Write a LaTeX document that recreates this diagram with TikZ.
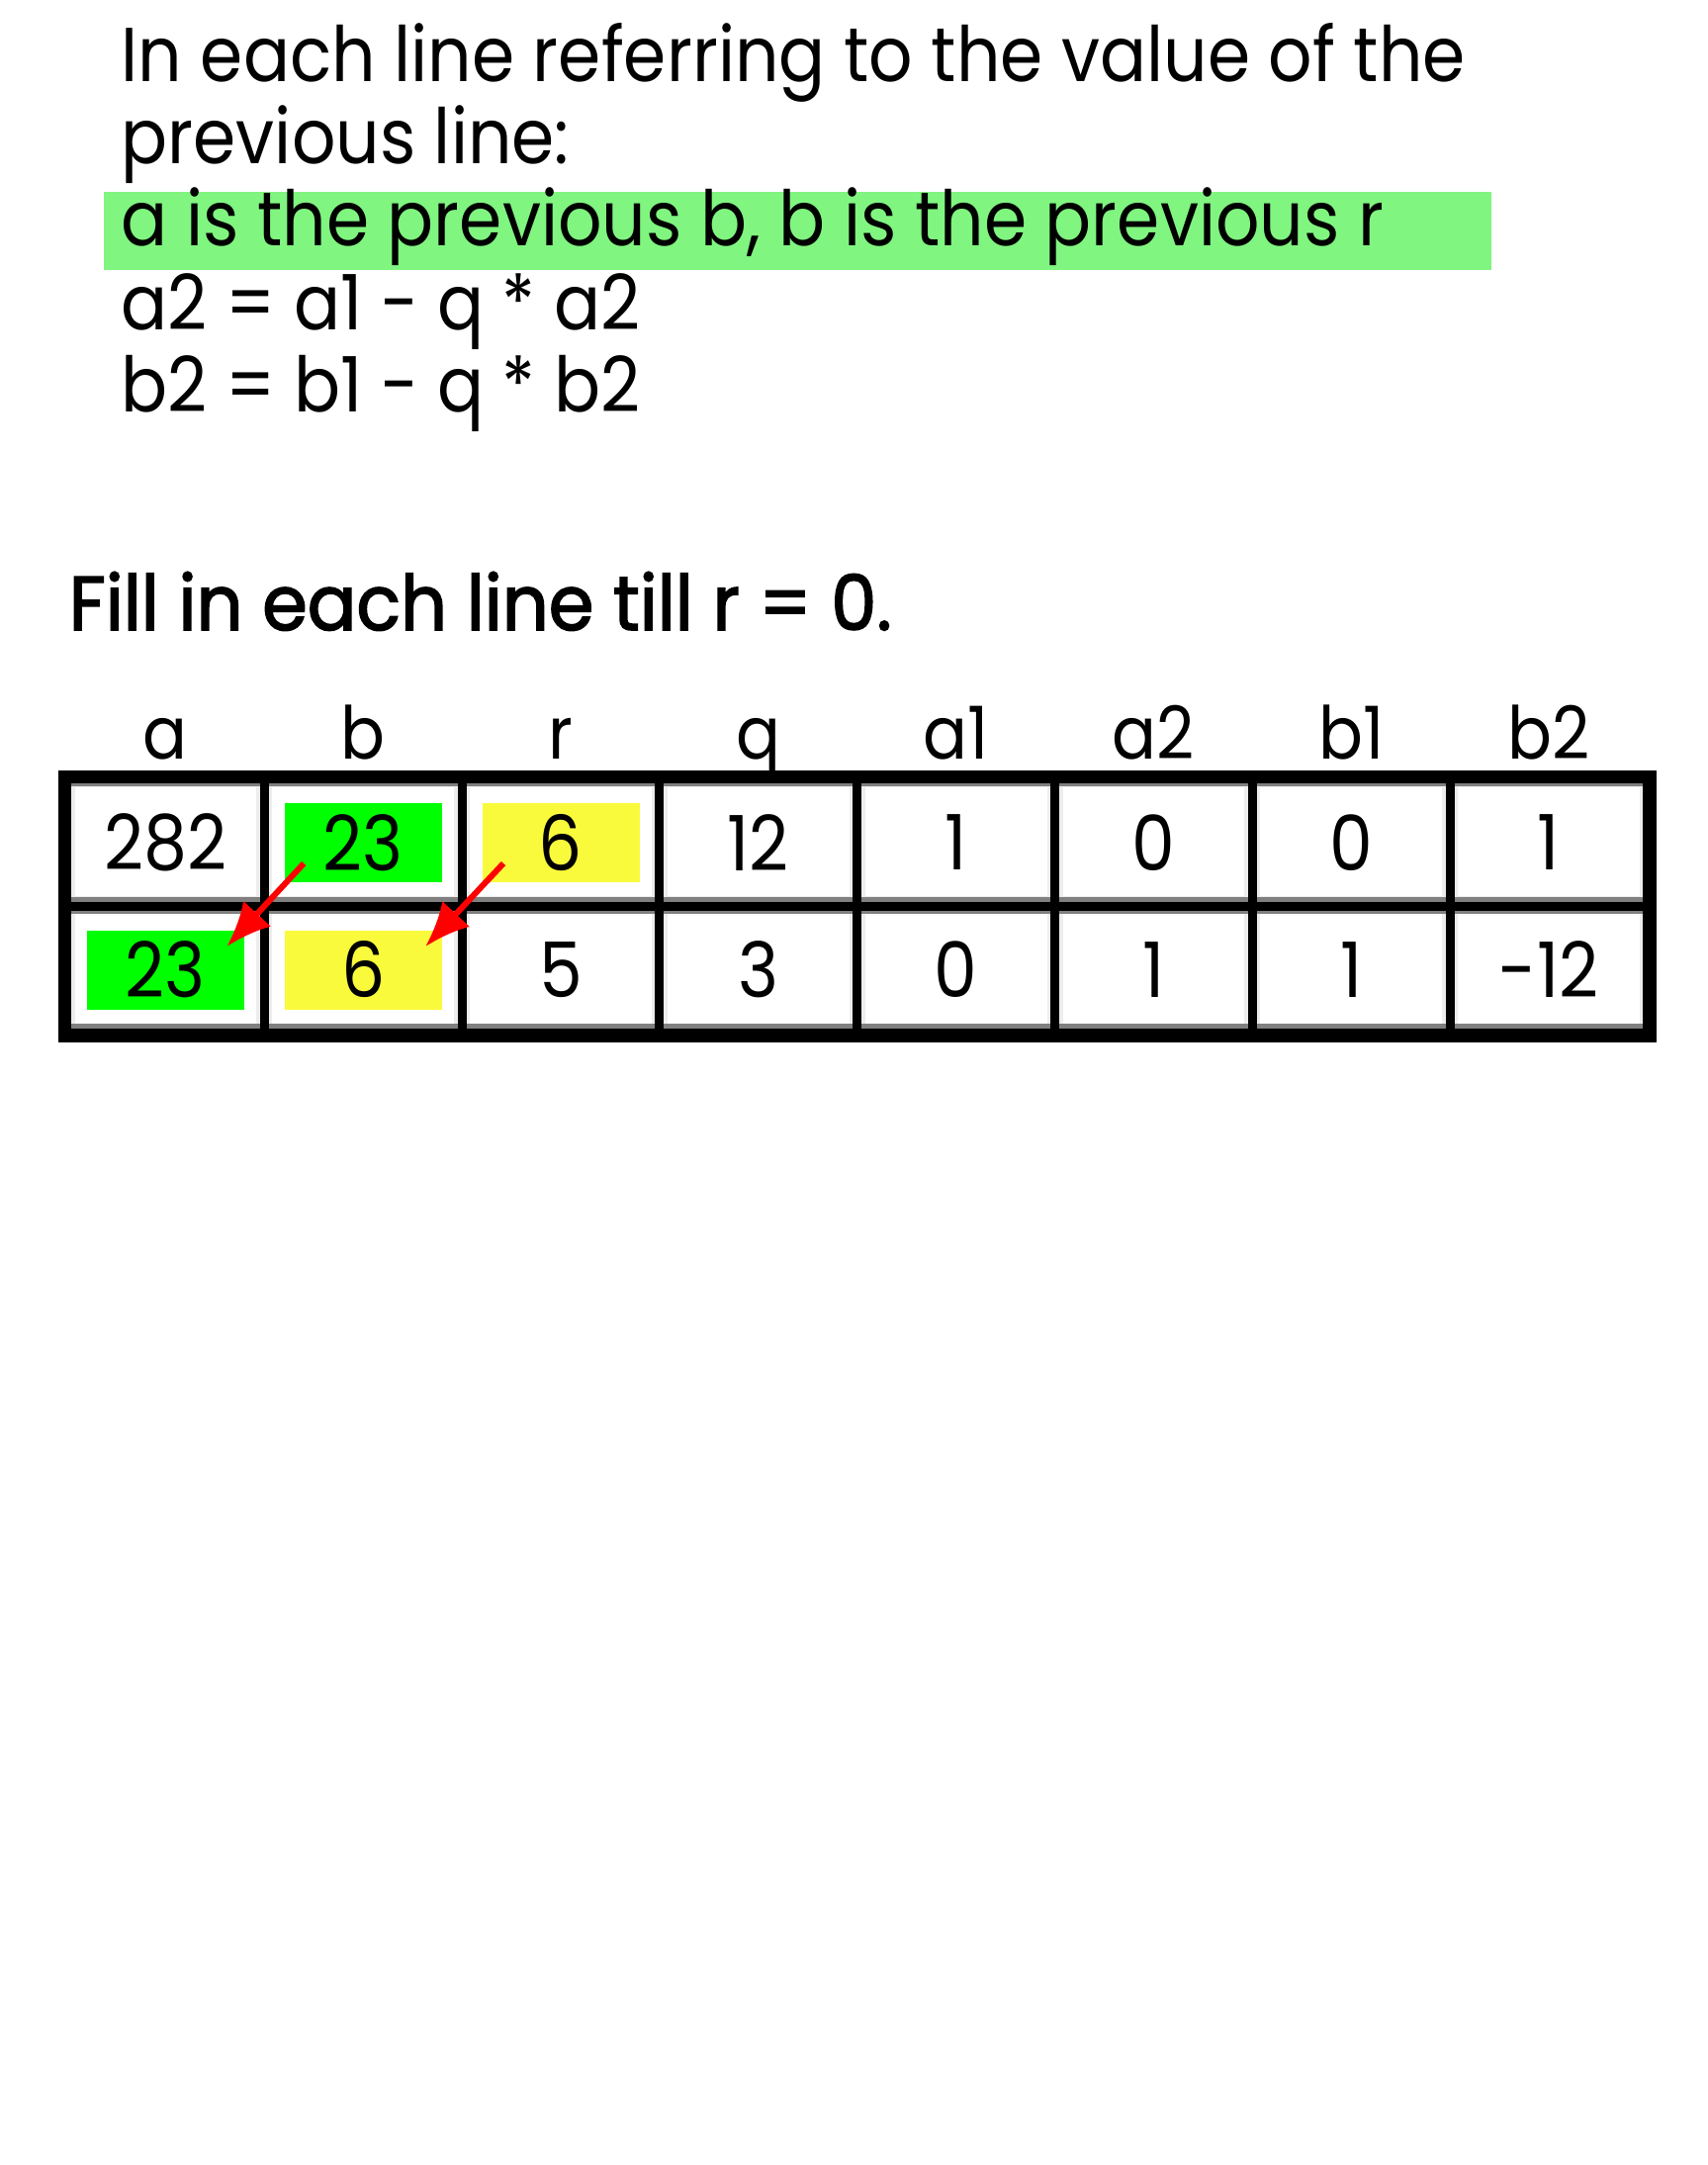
\documentclass[tikz,border=0pt]{standalone}
\usepackage{fontspec}
\setmainfont{Poppins}[FakeStretch=0.9]
\newfontfamily\fillfont{Poppins}[FakeStretch=0.95,FakeBold=2]
\usetikzlibrary{arrows.meta,calc}
\definecolor{hlline}{HTML}{80F580}
\definecolor{hlgreen}{HTML}{00FF00}
\definecolor{hlyellow}{HTML}{FAFA3C}
\definecolor{bevel}{HTML}{EDEDED}
\definecolor{bevdark}{HTML}{808080}
\begin{document}
\begin{tikzpicture}[
  txt/.style={anchor=base west, inner sep=0pt, font=\fontsize{22}{26}\selectfont},
  lab/.style={anchor=base, inner sep=0pt, font=\fontsize{21}{25}\selectfont},
  cell/.style={draw=black, line width=0.09cm, minimum width=1.998cm,
    minimum height=1.285cm, inner sep=0pt, font=\fontsize{22}{26}\selectfont,
    path picture={
      \fill[bevel] (path picture bounding box.south west) rectangle (path picture bounding box.north east);
      \fill[white] ($(path picture bounding box.south west)+(0.08,0.1)$) rectangle ($(path picture bounding box.north east)+(-0.08,-0.08)$);
      \fill[bevdark] ($(path picture bounding box.north west)+(0,-0.045)$) rectangle ($(path picture bounding box.north east)+(0,-0.075)$);
      \fill[bevdark] ($(path picture bounding box.south west)+(0,0.045)$) rectangle ($(path picture bounding box.south east)+(0,0.095)$);
      \fill[#1] ($(path picture bounding box.center)+(-0.795,-0.40)$) rectangle ($(path picture bounding box.center)+(0.795,0.40)$);
    }},
  cell/.default=white,
  copyarrow/.style={red, line width=0.06cm, -{Latex[length=0.45cm,width=0.38cm]}}
]

\fill[white] (0,0) rectangle (17.26,-21.89);
\useasboundingbox (0,0) rectangle (17.26,-21.89);

% instructions
\node[txt] (line1) at (1.22,-0.83) {In each line referring to the value of the};
\node[txt] (line2) at (1.22,-1.66) {previous line:};
\fill[hlline] (1.05,-1.94) rectangle (15.08,-2.73);
\node[txt] (line3) at (1.22,-2.49) {a is the previous b, b is the previous r};
\node[txt] (line4) at (1.22,-3.34) {a2 = a1 - q * a2};
\node[txt] (line5) at (1.22,-4.17) {b2 = b1 - q * b2};

\node[txt, font=\fillfont\fontsize{22}{26}\selectfont] (task) at (0.69,-6.37) {Fill in each line till r = 0.};

% table
\foreach \hd [count=\i from 0] in {a,b,r,q,a1,a2,b1,b2}
  \node[lab] (head\i) at (1.674+1.998*\i,-7.68) {\hd};

\foreach \v/\col [count=\i from 0] in {282/white,23/hlgreen,6/hlyellow,12/white,1/white,0/white,0/white,1/white}
  \node[cell=\col] (rowA\i) at (1.674+1.998*\i,-8.52) {\v};

\foreach \v/\col [count=\i from 0] in {23/hlgreen,6/hlyellow,5/white,3/white,0/white,1/white,1/white,-12/white}
  \node[cell=\col] (rowB\i) at (1.674+1.998*\i,-9.805) {\v};

\draw[line width=0.09cm] (rowA0.north west) rectangle (rowB7.south east);

% carried values
\draw[copyarrow] ($(rowA1.center)+(-0.6,-0.21)$) -- ($(rowB0.center)+(0.62,0.235)$);
\draw[copyarrow] ($(rowA2.center)+(-0.58,-0.21)$) -- ($(rowB1.center)+(0.63,0.235)$);

\end{tikzpicture}
\end{document}
